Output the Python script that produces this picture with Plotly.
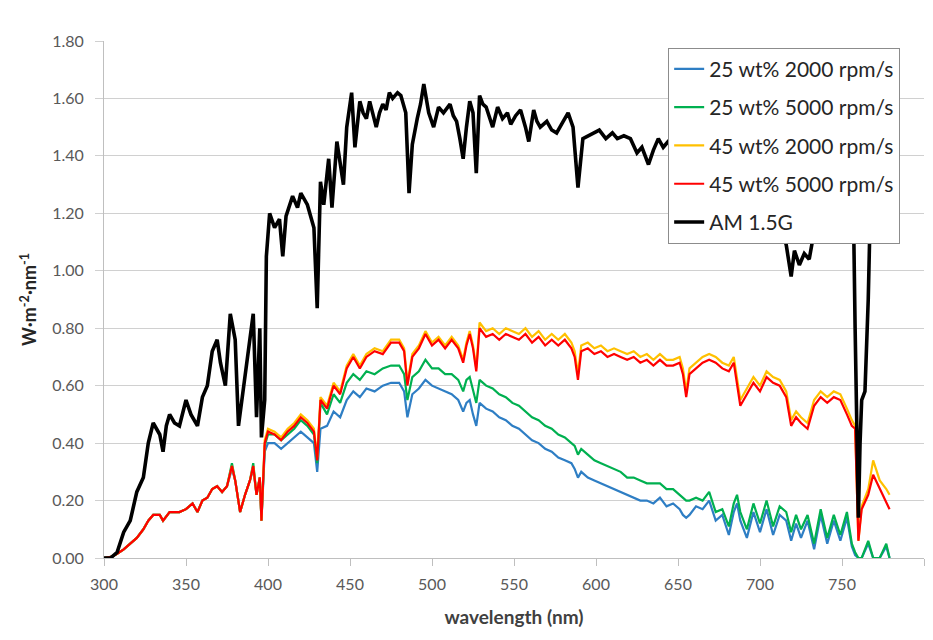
import plotly.graph_objects as go

# AM 1.5G reference spectrum
wl_am = [300, 304, 308, 312, 316, 320, 324, 327, 330, 332, 334, 336, 338, 340, 343, 346, 348, 350, 353, 357,
         360, 363, 366, 369, 371, 374, 377, 380, 382, 386, 389, 391, 393, 395, 396, 398, 399, 401, 404, 407,
         409, 411, 415, 418, 420, 422, 424, 428, 430, 432, 434, 437, 439, 442, 444, 446, 448, 451, 453, 456,
         458, 460, 462, 464, 466, 468, 470, 472, 474, 476, 479, 481, 484, 486, 488, 491, 493, 495, 498, 501,
         504, 507, 511, 513, 515, 517, 519, 521, 523, 525, 527, 529, 531, 533, 535, 537, 540, 543, 546, 548,
         551, 554, 557, 559, 562, 564, 566, 570, 573, 576, 580, 583, 586, 589, 592, 595, 598, 602, 606, 610,
         613, 617, 621, 625, 628, 632, 635, 638, 641, 644, 648, 652, 656, 660, 665, 670, 675, 680, 685, 688,
         690, 692, 695, 700, 705, 710, 713, 716, 719, 721, 724, 727, 730, 735, 740, 745, 750, 755, 757, 758,
         759, 760, 761, 762, 764, 766, 767, 770, 774, 778]
am15g = [0.00, 0.00, 0.02, 0.09, 0.13, 0.23, 0.28, 0.40, 0.47, 0.45, 0.43, 0.37, 0.46, 0.50, 0.47, 0.46, 0.50, 0.55, 0.50, 0.46,
         0.56, 0.60, 0.72, 0.76, 0.68, 0.60, 0.85, 0.76, 0.46, 0.63, 0.75, 0.85, 0.49, 0.80, 0.42, 0.55, 1.05, 1.20, 1.15, 1.18,
         1.05, 1.19, 1.26, 1.22, 1.27, 1.25, 1.23, 1.15, 0.87, 1.31, 1.23, 1.39, 1.22, 1.45, 1.38, 1.30, 1.50, 1.62, 1.43, 1.59,
         1.55, 1.53, 1.59, 1.55, 1.50, 1.55, 1.58, 1.56, 1.62, 1.60, 1.62, 1.61, 1.55, 1.27, 1.44, 1.53, 1.58, 1.65, 1.55, 1.50,
         1.57, 1.55, 1.58, 1.54, 1.52, 1.46, 1.39, 1.50, 1.59, 1.55, 1.34, 1.61, 1.58, 1.57, 1.53, 1.50, 1.57, 1.53, 1.55, 1.51,
         1.54, 1.56, 1.50, 1.45, 1.56, 1.52, 1.50, 1.52, 1.49, 1.48, 1.52, 1.55, 1.50, 1.29, 1.46, 1.47, 1.48, 1.49, 1.46, 1.48,
         1.46, 1.47, 1.46, 1.41, 1.43, 1.37, 1.42, 1.46, 1.43, 1.45, 1.44, 1.46, 1.42, 1.46, 1.44, 1.43, 1.42, 1.40, 1.38, 1.36,
         1.25, 1.32, 1.36, 1.38, 1.33, 1.30, 1.15, 1.09, 0.98, 1.07, 1.02, 1.06, 1.04, 1.20, 1.28, 1.30, 1.32, 1.28, 1.20, 0.80,
         0.35, 0.14, 0.40, 0.55, 0.58, 0.90, 1.15, 1.25, 1.27, 1.28]

# Sample transmitted spectra (shared wavelength grid)
wl = [300, 305, 308, 312, 316, 320, 324, 327, 330, 334, 336, 340, 346, 350, 354, 357, 360, 363, 366, 369,
      372, 375, 378, 380, 383, 386, 389, 391, 393, 395, 396, 398, 400, 404, 408, 412, 416, 420, 424, 428,
      430, 432, 436, 440, 444, 448, 452, 456, 460, 465, 470, 475, 480, 483, 485, 488, 492, 496, 500, 504,
      508, 512, 516, 519, 521, 523, 525, 527, 529, 533, 537, 541, 545, 549, 553, 557, 561, 565, 569, 573,
      577, 581, 585, 587, 589, 591, 595, 599, 603, 607, 611, 615, 619, 623, 627, 631, 635, 639, 643, 647,
      651, 653, 655, 657, 661, 665, 669, 673, 677, 681, 684, 686, 688, 692, 696, 700, 704, 708, 712, 716,
      719, 722, 725, 729, 733, 737, 741, 745, 749, 753, 756, 758, 760, 762, 766, 769, 773, 777, 779]

s45_5000 = [0.00, 0.005, 0.015, 0.03, 0.05, 0.07, 0.10, 0.13, 0.15, 0.15, 0.13, 0.16, 0.16, 0.17, 0.19, 0.16, 0.20, 0.21, 0.24, 0.25,
            0.23, 0.25, 0.32, 0.27, 0.16, 0.22, 0.27, 0.32, 0.22, 0.28, 0.13, 0.40, 0.44, 0.43, 0.41, 0.44, 0.46, 0.49, 0.47, 0.44,
            0.34, 0.55, 0.52, 0.60, 0.57, 0.66, 0.70, 0.66, 0.70, 0.72, 0.71, 0.75, 0.75, 0.72, 0.60, 0.70, 0.73, 0.78, 0.74, 0.76,
            0.73, 0.76, 0.73, 0.68, 0.74, 0.78, 0.73, 0.65, 0.80, 0.77, 0.78, 0.76, 0.78, 0.77, 0.76, 0.78, 0.75, 0.77, 0.74, 0.76,
            0.74, 0.76, 0.73, 0.70, 0.62, 0.72, 0.73, 0.71, 0.72, 0.70, 0.71, 0.70, 0.69, 0.70, 0.68, 0.69, 0.67, 0.69, 0.67, 0.67,
            0.68, 0.64, 0.56, 0.64, 0.66, 0.68, 0.69, 0.68, 0.66, 0.65, 0.68, 0.60, 0.53, 0.57, 0.61, 0.58, 0.63, 0.61, 0.60, 0.56,
            0.46, 0.49, 0.47, 0.45, 0.53, 0.56, 0.54, 0.56, 0.55, 0.50, 0.46, 0.45, 0.06, 0.17, 0.22, 0.29, 0.24, 0.19, 0.17]

s45_2000 = [0.00, 0.005, 0.015, 0.03, 0.05, 0.07, 0.10, 0.13, 0.15, 0.15, 0.13, 0.16, 0.16, 0.17, 0.19, 0.16, 0.20, 0.21, 0.24, 0.25,
            0.23, 0.25, 0.32, 0.27, 0.16, 0.22, 0.27, 0.32, 0.22, 0.28, 0.13, 0.41, 0.45, 0.44, 0.42, 0.45, 0.47, 0.50, 0.48, 0.45,
            0.35, 0.56, 0.53, 0.61, 0.58, 0.67, 0.71, 0.67, 0.71, 0.73, 0.72, 0.76, 0.76, 0.73, 0.61, 0.71, 0.74, 0.79, 0.75, 0.77,
            0.74, 0.77, 0.74, 0.69, 0.75, 0.79, 0.74, 0.66, 0.82, 0.79, 0.80, 0.78, 0.80, 0.79, 0.78, 0.80, 0.77, 0.79, 0.76, 0.78,
            0.76, 0.78, 0.75, 0.72, 0.64, 0.74, 0.75, 0.73, 0.74, 0.72, 0.73, 0.72, 0.71, 0.72, 0.70, 0.71, 0.69, 0.71, 0.69, 0.69,
            0.70, 0.66, 0.58, 0.66, 0.68, 0.70, 0.71, 0.70, 0.68, 0.67, 0.70, 0.62, 0.55, 0.59, 0.63, 0.60, 0.65, 0.63, 0.62, 0.58,
            0.48, 0.51, 0.49, 0.47, 0.55, 0.58, 0.56, 0.58, 0.57, 0.52, 0.48, 0.46, 0.06, 0.18, 0.24, 0.34, 0.27, 0.24, 0.22]

s25_5000 = [0.00, 0.005, 0.015, 0.03, 0.05, 0.07, 0.10, 0.13, 0.15, 0.15, 0.13, 0.16, 0.16, 0.17, 0.19, 0.16, 0.20, 0.21, 0.24, 0.25,
            0.23, 0.25, 0.33, 0.27, 0.16, 0.22, 0.27, 0.33, 0.22, 0.28, 0.13, 0.39, 0.43, 0.43, 0.41, 0.43, 0.45, 0.48, 0.46, 0.43,
            0.33, 0.54, 0.50, 0.57, 0.54, 0.61, 0.64, 0.62, 0.65, 0.64, 0.66, 0.67, 0.67, 0.64, 0.55, 0.63, 0.65, 0.69, 0.66, 0.66,
            0.64, 0.64, 0.62, 0.58, 0.62, 0.63, 0.58, 0.54, 0.62, 0.60, 0.59, 0.57, 0.56, 0.54, 0.53, 0.51, 0.49, 0.48, 0.46, 0.45,
            0.43, 0.42, 0.40, 0.39, 0.36, 0.38, 0.36, 0.34, 0.33, 0.32, 0.31, 0.30, 0.28, 0.28, 0.27, 0.26, 0.26, 0.26, 0.24, 0.24,
            0.22, 0.21, 0.20, 0.20, 0.21, 0.20, 0.23, 0.16, 0.17, 0.11, 0.19, 0.22, 0.16, 0.10, 0.19, 0.12, 0.20, 0.11, 0.18, 0.16,
            0.09, 0.15, 0.10, 0.15, 0.05, 0.17, 0.07, 0.15, 0.08, 0.16, 0.05, 0.02, 0.00, 0.00, 0.06, 0.00, 0.00, 0.05, 0.00]

s25_2000 = [0.00, 0.005, 0.015, 0.03, 0.05, 0.07, 0.10, 0.13, 0.15, 0.15, 0.13, 0.16, 0.16, 0.17, 0.19, 0.16, 0.20, 0.21, 0.24, 0.25,
            0.23, 0.25, 0.31, 0.27, 0.16, 0.22, 0.27, 0.31, 0.22, 0.28, 0.13, 0.37, 0.40, 0.40, 0.38, 0.40, 0.42, 0.44, 0.42, 0.40,
            0.30, 0.45, 0.46, 0.51, 0.49, 0.55, 0.58, 0.56, 0.59, 0.58, 0.60, 0.61, 0.61, 0.58, 0.49, 0.57, 0.59, 0.62, 0.60, 0.59,
            0.58, 0.57, 0.55, 0.51, 0.54, 0.55, 0.50, 0.46, 0.54, 0.52, 0.51, 0.49, 0.48, 0.46, 0.45, 0.43, 0.41, 0.40, 0.38, 0.37,
            0.35, 0.34, 0.33, 0.31, 0.28, 0.30, 0.28, 0.27, 0.26, 0.25, 0.24, 0.23, 0.22, 0.21, 0.20, 0.20, 0.19, 0.21, 0.18, 0.19,
            0.17, 0.15, 0.14, 0.15, 0.18, 0.17, 0.20, 0.13, 0.15, 0.08, 0.16, 0.19, 0.13, 0.07, 0.16, 0.09, 0.17, 0.08, 0.15, 0.13,
            0.06, 0.12, 0.07, 0.13, 0.03, 0.15, 0.05, 0.13, 0.06, 0.14, 0.04, 0.01, 0.00, 0.00, 0.05, 0.00, 0.00, 0.04, 0.00]

series = [
    ("25 wt% 2000 rpm/s", wl, s25_2000, "#2E7EC4", 2.2),
    ("25 wt% 5000 rpm/s", wl, s25_5000, "#00B050", 2.2),
    ("45 wt% 2000 rpm/s", wl, s45_2000, "#FFC000", 2.2),
    ("45 wt% 5000 rpm/s", wl, s45_5000, "#FF0000", 2.2),
    ("AM 1.5G", wl_am, am15g, "#000000", 3.6),
]

fig = go.Figure()
for i, (name, x, y, color, w) in enumerate(series):
    fig.add_trace(go.Scatter(x=x, y=y, mode="lines", name=name, legendgroup=str(i),
                             line=dict(color=color, width=w)))

font_family = "Lato, 'Open Sans', sans-serif"
fig.update_layout(
    width=933, height=640,
    margin=dict(l=104, r=9, t=41, b=82),
    paper_bgcolor="white", plot_bgcolor="white",
    font=dict(family=font_family, color="#404040", size=16),
    showlegend=True,
    legend=dict(x=0.688, y=0.987, xanchor="left", yanchor="top",
                bgcolor="white", bordercolor="#8c8c8c", borderwidth=1,
                font=dict(size=21, color="#262626"), tracegroupgap=8,
                itemwidth=30),
    xaxis=dict(range=[300, 800], dtick=50, tick0=300, showgrid=False,
               showline=True, linecolor="#bfbfbf", linewidth=1,
               ticks="outside", ticklen=7, tickcolor="#bfbfbf",
               ticklabelstandoff=5,
               tickfont=dict(size=16, color="#595959"),
               title=dict(text="<b>wavelength (nm)</b>", font=dict(size=19, color="#404040"), standoff=18),
               zeroline=False),
    yaxis=dict(range=[0, 1.8], dtick=0.2, tickformat=".2f", showgrid=True,
               gridcolor="#d0d0d0", gridwidth=1,
               showline=True, linecolor="#bfbfbf", linewidth=1,
               ticks="outside", ticklen=8, tickcolor="#d0d0d0",
               ticklabelstandoff=8,
               tickfont=dict(size=16, color="#595959"),
               title=dict(text="<b>W·m<sup>-2</sup>·nm<sup>-1</sup></b>", font=dict(size=18, color="#262626"), standoff=10),
               zeroline=False),
)

fig.write_html("out.html")
